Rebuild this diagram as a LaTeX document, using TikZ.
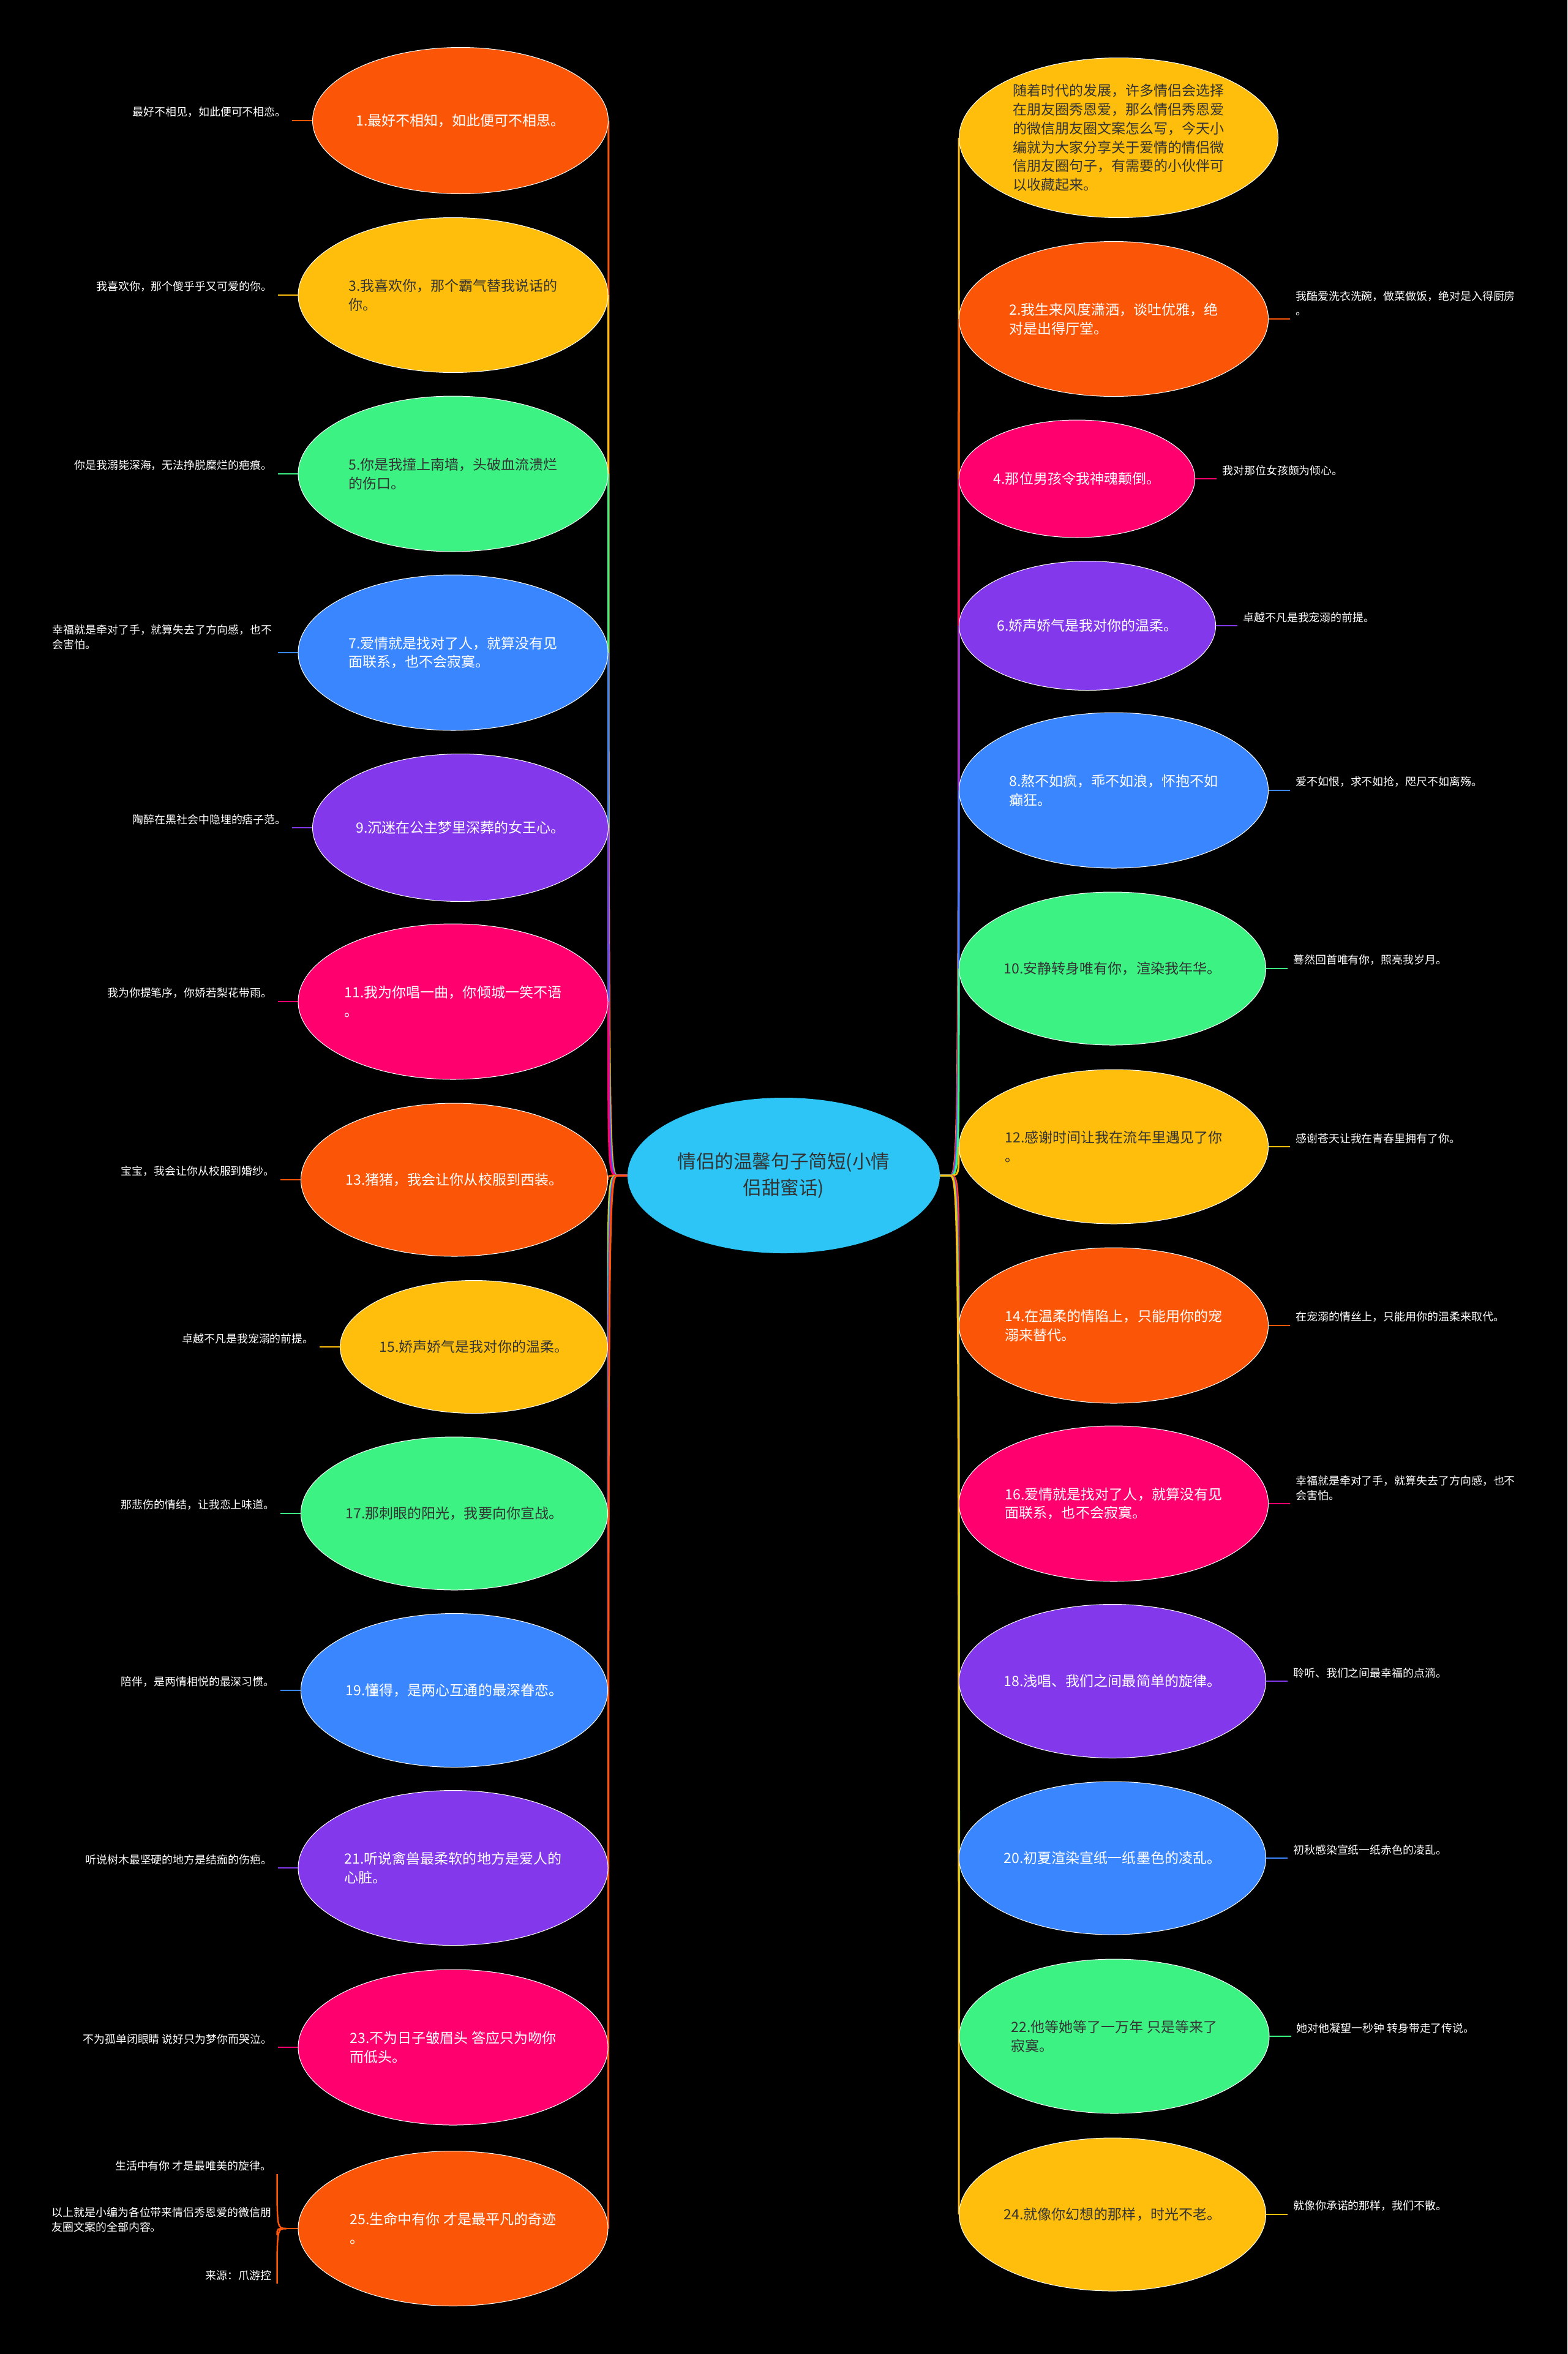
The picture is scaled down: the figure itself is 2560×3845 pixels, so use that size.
\documentclass[tikz,border=0pt]{standalone}
\usepackage{fontspec}
\newfontfamily\cjk{Noto Sans CJK SC}
\usepackage{tikz}
\usetikzlibrary{
  shapes.geometric,
  positioning,
  calc
}
\definecolor{qlOrange}{HTML}{FB5607}
\definecolor{qlYellow}{HTML}{FFBE0B}
\definecolor{qlGreen}{HTML}{3CF283}
\definecolor{qlBlue}{HTML}{3A86FF}
\definecolor{qlPurple}{HTML}{8338EC}
\definecolor{qlPink}{HTML}{FF006E}
\definecolor{qlSky}{HTML}{2CC5F5}
\definecolor{qlInk}{HTML}{333333}
\pgfdeclarelayer{board}
\pgfdeclarelayer{links}
\pgfsetlayers{board,links,main}
\tikzset{
  bub/.style 2 args={
    ellipse, draw=white, line width=0.2mm, inner sep=0pt,
    minimum width=#1, minimum height=#2, align=left, text=white,
    font=\cjk\fontsize{13.1}{17.5}\selectfont
  },
  dark/.style={text=qlInk},
  hub/.style={
    ellipse, fill=qlSky, inner sep=0pt, minimum width=102mm, minimum height=50.8mm,
    align=center, text=qlInk, font=\cjk\fontsize{17.4}{24}\selectfont
  },
  leafl/.style={anchor=south east, align=left, text=white, inner xsep=1.8mm, inner ysep=1mm,
    font=\cjk\fontsize{10.2}{13.5}\selectfont},
  leafr/.style={leafl, anchor=south west},
  link/.style={line width=0.6mm},
  twig/.style={line width=0.5mm}
}

\begin{document}
\begin{tikzpicture}[x=0.2mm, y=-0.2mm]
  \begin{pgfonlayer}{board}
    \fill[black] (0,0) rectangle (2560,3845);
  \end{pgfonlayer}

  % root
  \node[hub] (root) at (1280,1920) {情侣的温馨句子简短(小情\\侣甜蜜话)};
  \coordinate (ls) at ([xshift=-3mm]root.west);
  \coordinate (rs) at ([xshift=3mm]root.east);

  % left branch
  \node[bub={96.4mm}{47.8mm}, fill=qlOrange] (n1) at (752,197) {1.最好不相知，如此便可不相思。};
  \node[bub={101.2mm}{50.6mm}, fill=qlYellow, dark] (n3) at (740,482) {3.我喜欢你，那个霸气替我说话的\\你。};
  \node[bub={101.2mm}{50.8mm}, fill=qlGreen, dark] (n5) at (740,774) {5.你是我撞上南墙，头破血流溃烂\\的伤口。};
  \node[bub={101.2mm}{50.8mm}, fill=qlBlue] (n7) at (740,1066) {7.爱情就是找对了人，就算没有见\\面联系，也不会寂寞。};
  \node[bub={96.4mm}{48.2mm}, fill=qlPurple] (n9) at (752,1352) {9.沉迷在公主梦里深葬的女王心。};
  \node[bub={101.2mm}{50.8mm}, fill=qlPink] (n11) at (740,1636) {11.我为你唱一曲，你倾城一笑不语\\。};
  \node[bub={100.2mm}{50mm}, fill=qlOrange] (n13) at (742,1927) {13.猪猪，我会让你从校服到西装。};
  \node[bub={87.4mm}{43.4mm}, fill=qlYellow, dark] (n15) at (774,2200) {15.娇声娇气是我对你的温柔。};
  \node[bub={100.2mm}{50mm}, fill=qlGreen, dark] (n17) at (742,2472) {17.那刺眼的阳光，我要向你宣战。};
  \node[bub={100.2mm}{50.2mm}, fill=qlBlue] (n19) at (742,2761) {19.懂得，是两心互通的最深眷恋。};
  \node[bub={101.2mm}{50.6mm}, fill=qlPurple] (n21) at (740,3051) {21.听说禽兽最柔软的地方是爱人的\\心脏。};
  \node[bub={101.2mm}{50.8mm}, fill=qlPink] (n23) at (740,3344) {23.不为日子皱眉头 答应只为吻你\\而低头。};
  \node[bub={101.2mm}{50.6mm}, fill=qlOrange] (n25) at (740,3640) {25.生命中有你 才是最平凡的奇迹\\。};

  % right branch
  \node[bub={104.2mm}{52.2mm}, fill=qlYellow, dark] (n0) at (1827,225) {随着时代的发展，许多情侣会选择\\在朋友圈秀恩爱，那么情侣秀恩爱\\的微信朋友圈文案怎么写，今天小\\编就为大家分享关于爱情的情侣微\\信朋友圈句子，有需要的小伙伴可\\以收藏起来。};
  \node[bub={101mm}{50.6mm}, fill=qlOrange] (n2) at (1819,521) {2.我生来风度潇洒，谈吐优雅，绝\\对是出得厅堂。};
  \node[bub={76.8mm}{38.4mm}, fill=qlPink] (n4) at (1759,782) {4.那位男孩令我神魂颠倒。};
  \node[bub={83.8mm}{42.2mm}, fill=qlPurple] (n6) at (1776,1022) {6.娇声娇气是我对你的温柔。};
  \node[bub={101mm}{50.8mm}, fill=qlBlue] (n8) at (1819,1291) {8.熬不如疯，乖不如浪，怀抱不如\\癫狂。};
  \node[bub={100mm}{50mm}, fill=qlGreen, dark] (n10) at (1817,1582) {10.安静转身唯有你，渲染我年华。};
  \node[bub={101mm}{50.4mm}, fill=qlYellow, dark] (n12) at (1819,1873) {12.感谢时间让我在流年里遇见了你\\。};
  \node[bub={101mm}{50.8mm}, fill=qlOrange] (n14) at (1819,2165) {14.在温柔的情陷上，只能用你的宠\\溺来替代。};
  \node[bub={101mm}{50.8mm}, fill=qlPink] (n16) at (1819,2456) {16.爱情就是找对了人，就算没有见\\面联系，也不会寂寞。};
  \node[bub={100mm}{50.2mm}, fill=qlPurple] (n18) at (1817,2746) {18.浅唱、我们之间最简单的旋律。};
  \node[bub={100mm}{50mm}, fill=qlBlue] (n20) at (1817,3035) {20.初夏渲染宣纸一纸墨色的凌乱。};
  \node[bub={101.2mm}{50.4mm}, fill=qlGreen, dark] (n22) at (1820,3326) {22.他等她等了一万年 只是等来了\\寂寞。};
  \node[bub={100mm}{50mm}, fill=qlYellow, dark] (n24) at (1817,3617) {24.就像你幻想的那样，时光不老。};

  % left leaves
  \node[leafl] (l1) at ([xshift=-6.6mm]n1.west) {最好不相见，如此便可不相恋。};
  \node[leafl] (l3) at ([xshift=-6.6mm]n3.west) {我喜欢你，那个傻乎乎又可爱的你。};
  \node[leafl] (l5) at ([xshift=-6.6mm]n5.west) {你是我溺毙深海，无法挣脱糜烂的疤痕。};
  \node[leafl] (l7) at ([xshift=-6.6mm]n7.west) {幸福就是牵对了手，就算失去了方向感，也不\\会害怕。};
  \node[leafl] (l9) at ([xshift=-6.6mm]n9.west) {陶醉在黑社会中隐埋的痞子范。};
  \node[leafl] (l11) at ([xshift=-6.6mm]n11.west) {我为你提笔序，你娇若梨花带雨。};
  \node[leafl] (l13) at ([xshift=-6.6mm]n13.west) {宝宝，我会让你从校服到婚纱。};
  \node[leafl] (l15) at ([xshift=-6.6mm]n15.west) {卓越不凡是我宠溺的前提。};
  \node[leafl] (l17) at ([xshift=-6.6mm]n17.west) {那悲伤的情结，让我恋上味道。};
  \node[leafl] (l19) at ([xshift=-6.6mm]n19.west) {陪伴，是两情相悦的最深习惯。};
  \node[leafl] (l21) at ([xshift=-6.6mm]n21.west) {听说树木最坚硬的地方是结痂的伤疤。};
  \node[leafl] (l23) at ([xshift=-6.6mm]n23.west) {不为孤单闭眼睛 说好只为梦你而哭泣。};
  \coordinate (j25) at ([xshift=-3.8mm]n25.west);
  \node[leafl] (l25a) at ([xshift=-6.8mm,yshift=17.8mm]n25.west) {生活中有你 才是最唯美的旋律。};
  \node[leafl] (l25b) at ([xshift=-6.8mm,yshift=-2.2mm]n25.west) {以上就是小编为各位带来情侣秀恩爱的微信朋\\友圈文案的全部内容。};
  \node[leafl] (l25c) at ([xshift=-6.8mm,yshift=-18mm]n25.west) {来源：爪游控};

  % right leaves
  \node[leafr] (l2) at ([xshift=7mm]n2.east) {我酷爱洗衣洗碗，做菜做饭，绝对是入得厨房\\。};
  \node[leafr] (l4) at ([xshift=7mm]n4.east) {我对那位女孩颇为倾心。};
  \node[leafr] (l6) at ([xshift=7mm]n6.east) {卓越不凡是我宠溺的前提。};
  \node[leafr] (l8) at ([xshift=7mm]n8.east) {爱不如恨，求不如抢，咫尺不如离殇。};
  \node[leafr] (l10) at ([xshift=7mm]n10.east) {蓦然回首唯有你，照亮我岁月。};
  \node[leafr] (l12) at ([xshift=7mm]n12.east) {感谢苍天让我在青春里拥有了你。};
  \node[leafr] (l14) at ([xshift=7mm]n14.east) {在宠溺的情丝上，只能用你的温柔来取代。};
  \node[leafr] (l16) at ([xshift=7mm]n16.east) {幸福就是牵对了手，就算失去了方向感，也不\\会害怕。};
  \node[leafr] (l18) at ([xshift=7mm]n18.east) {聆听、我们之间最幸福的点滴。};
  \node[leafr] (l20) at ([xshift=7mm]n20.east) {初秋感染宣纸一纸赤色的凌乱。};
  \node[leafr] (l22) at ([xshift=7mm]n22.east) {她对他凝望一秒钟 转身带走了传说。};
  \node[leafr] (l24) at ([xshift=7mm]n24.east) {就像你承诺的那样，我们不散。};

  % connectors
  \begin{pgfonlayer}{links}
    \foreach \n/\c in {n1/qlOrange, n3/qlYellow, n5/qlGreen, n7/qlBlue, n9/qlPurple, n11/qlPink,
        n13/qlOrange, n15/qlYellow, n17/qlGreen, n19/qlBlue, n21/qlPurple, n23/qlPink, n25/qlOrange}
      \draw[link, draw=\c] (root.west) -- (ls) .. controls (ls -| \n.east) .. (\n.east);
    \foreach \n/\c in {n0/qlYellow, n2/qlOrange, n4/qlPink, n6/qlPurple, n8/qlBlue, n10/qlGreen,
        n12/qlYellow, n14/qlOrange, n16/qlPink, n18/qlPurple, n20/qlBlue, n22/qlGreen, n24/qlYellow}
      \draw[link, draw=\c] (root.east) -- (rs) .. controls (rs -| \n.west) .. (\n.west);
    \foreach \n/\l/\c in {n1/l1/qlOrange, n3/l3/qlYellow, n5/l5/qlGreen, n7/l7/qlBlue, n9/l9/qlPurple,
        n11/l11/qlPink, n13/l13/qlOrange, n15/l15/qlYellow, n17/l17/qlGreen, n19/l19/qlBlue,
        n21/l21/qlPurple, n23/l23/qlPink}
      \draw[twig, draw=\c] (\n.west) -- (\l.south east);
    \draw[twig, draw=qlOrange] (n25.west) -- (j25);
    \foreach \l in {l25a, l25b, l25c}
      \draw[twig, draw=qlOrange] (j25) .. controls (j25 -| \l.south east) .. (\l.south east);
    \foreach \n/\l/\c in {n2/l2/qlOrange, n4/l4/qlPink, n6/l6/qlPurple, n8/l8/qlBlue, n10/l10/qlGreen,
        n12/l12/qlYellow, n14/l14/qlOrange, n16/l16/qlPink, n18/l18/qlPurple, n20/l20/qlBlue,
        n22/l22/qlGreen, n24/l24/qlYellow}
      \draw[twig, draw=\c] (\n.east) -- (\l.south west);
  \end{pgfonlayer}
\end{tikzpicture}
\end{document}
